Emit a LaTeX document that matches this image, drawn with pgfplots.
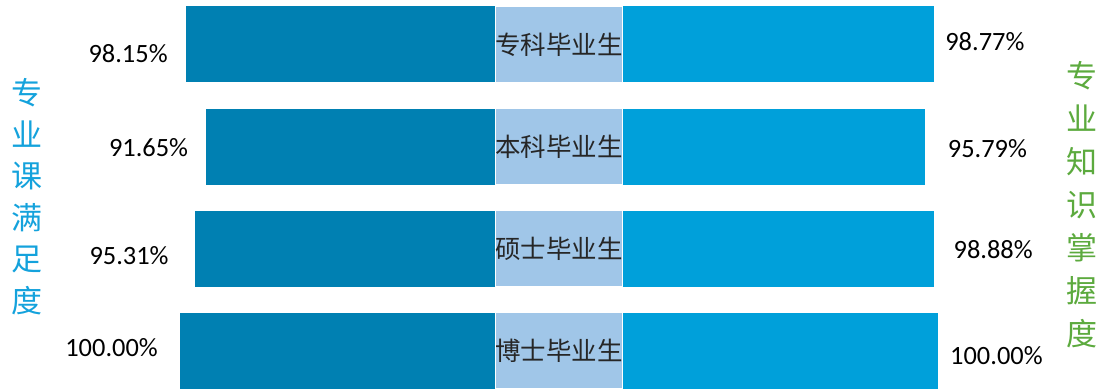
\documentclass[border=0pt]{standalone}
\usepackage{pgfplots}
\pgfplotsset{compat=1.18}
\usepackage{pgfplotstable}
\usepackage{fontspec}
\setmainfont{Carlito}
\newfontfamily\cjk{Noto Sans CJK SC}
\definecolor{leftbar}{RGB}{0,128,178}
\definecolor{rightbar}{RGB}{0,160,218}
\definecolor{band}{RGB}{160,198,232}
\definecolor{titleblue}{RGB}{20,162,220}
\definecolor{titlegreen}{RGB}{92,170,62}
\newcommand\valfont{\fontsize{26.4}{28}\selectfont}
\pgfplotsset{
  base/.style={
    scale only axis, height=389pt, hide axis, y dir=reverse,
    ymin=-0.436, ymax=3.377, anchor=north west, clip=false,
    /pgf/number format/.cd, fixed, fixed zerofill, precision=2, assume math mode=true},
  lb/.style n args={3}{xbar, bar width=0.745, bar shift=0pt, fill=leftbar, draw=none,
    point meta=x, nodes near coords={\pgfmathprintnumber{\pgfplotspointmeta}\%},
    every node near coord/.style={anchor=east, inner sep=0pt, xshift=-#1, yshift=-#2, font=\valfont, text=black}},
  rb/.style n args={3}{xbar, bar width=0.745, bar shift=0pt, fill=rightbar, draw=none,
    point meta=x, nodes near coords={\pgfmathprintnumber{\pgfplotspointmeta}\%},
    every node near coord/.style={anchor=west, inner sep=0pt, xshift=#1, yshift=-#2, font=\valfont, text=black}},
}
\pgfplotstableread{
x y lab
1 0 专科毕业生
1 1 本科毕业生
1 2 硕士毕业生
1 3 博士毕业生
}\bandtab
\begin{document}
\begin{tikzpicture}
\useasboundingbox (0,0) rectangle (1104pt,-389pt);
% left bars: professional course satisfaction
\begin{axis}[base, at={(0pt,0pt)}, width=495pt, xmin=0, xmax=157.14, x dir=reverse]
\addplot[lb={18pt}{9pt}{}] coordinates {(98.15,0)};
\addplot[lb={18pt}{1.5pt}{}] coordinates {(91.65,1)};
\addplot[lb={26pt}{7pt}{}] coordinates {(95.31,2)};
\addplot[lb={22pt}{-3pt}{}] coordinates {(100,3)};
\end{axis}
% middle band with categories
\begin{axis}[base, at={(495.5pt,0pt)}, width=127pt, xmin=0, xmax=1]
\addplot[xbar, bar width=0.745, bar shift=0pt, fill=band, draw=white, line width=0.8pt,
  point meta=explicit symbolic, nodes near coords,
  every node near coord/.style={anchor=center, inner sep=0pt, xshift=-63.5pt,
    font=\cjk\fontsize{25.5}{27}\selectfont, text=black!85}]
  table[x=x, y=y, meta=lab] {\bandtab};
\end{axis}
% right bars: professional knowledge mastery
\begin{axis}[base, at={(623pt,0pt)}, width=481pt, xmin=0, xmax=152.70]
\addplot[rb={11pt}{-3pt}{}] coordinates {(98.77,0)};
\addplot[rb={23pt}{2.5pt}{}] coordinates {(95.79,1)};
\addplot[rb={19pt}{1.5pt}{}] coordinates {(98.88,2)};
\addplot[rb={12pt}{5.5pt}{}] coordinates {(100,3)};
\end{axis}
\node[align=center, inner sep=0pt, text=titleblue, font=\cjk\fontsize{31}{41.5}\selectfont]
  at (27pt,-196.5pt) {专\\业\\课\\满\\足\\度};
\node[align=center, inner sep=0pt, text=titlegreen, font=\cjk\fontsize{31}{43}\selectfont]
  at (1082pt,-204.5pt) {专\\业\\知\\识\\掌\\握\\度};
\end{tikzpicture}
\end{document}
